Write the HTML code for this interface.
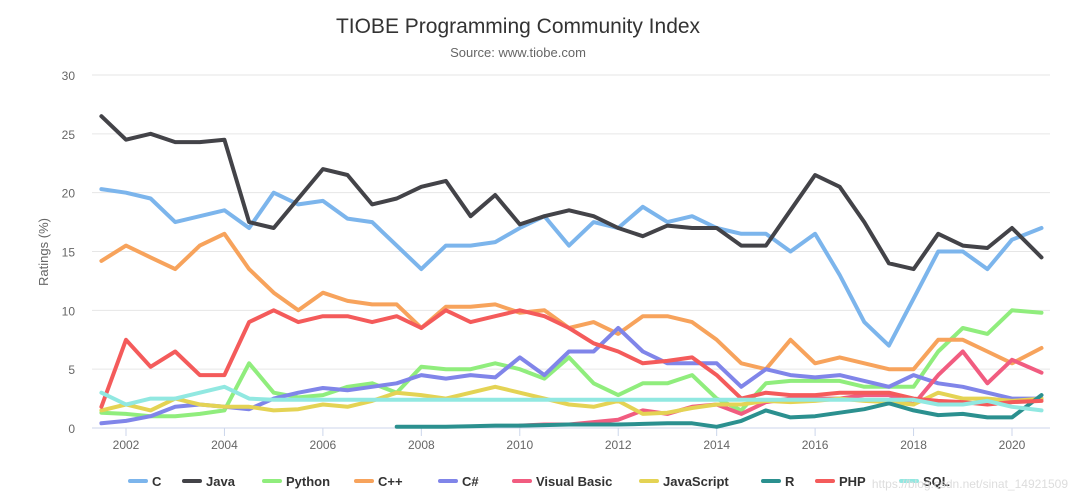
<!DOCTYPE html>
<html><head><meta charset="utf-8">
<style>
html,body{margin:0;padding:0;background:#fff;width:1080px;height:502px;overflow:hidden;font-family:"Liberation Sans",sans-serif}
</style></head>
<body>
<svg id="chart" width="1080" height="502" xmlns="http://www.w3.org/2000/svg" font-family="Liberation Sans, sans-serif">
<text x="518" y="33" text-anchor="middle" font-size="21" fill="#333">TIOBE Programming Community Index</text>
<text x="518" y="57" text-anchor="middle" font-size="13" fill="#666">Source: www.tiobe.com</text>
<text transform="translate(48,252) rotate(-90)" text-anchor="middle" font-size="13" fill="#666">Ratings (%)</text>
<g id="grid"></g><g id="xaxis"></g><g id="series"></g><g id="legend"></g>
<text x="1068" y="488" text-anchor="end" font-size="12" fill="#ddd">https://blog.csdn.net/sinat_14921509</text>
</svg>
<script>
const years=[2001.5,2002,2002.5,2003,2003.5,2004,2004.5,2005,2005.5,2006,2006.5,2007,2007.5,2008,2008.5,2009,2009.5,2010,2010.5,2011,2011.5,2012,2012.5,2013,2013.5,2014,2014.5,2015,2015.5,2016,2016.5,2017,2017.5,2018,2018.5,2019,2019.5,2020,2020.6];
const yTicks=[0,5,10,15,20,25,30];
const xTicks=[2002,2004,2006,2008,2010,2012,2014,2016,2018,2020];
const seriesNames=["C","Java","Python","C++","C#","Visual Basic","JavaScript","R","PHP","SQL"];
const cVals=[20.3,20,19.5,17.5,18,18.5,17,20,19,19.3,17.8,17.5,15.5,13.5,15.5,15.5,15.8,17,18,15.5,17.5,17,18.8,17.5,18,17,16.5,16.5,15,16.5,13,9,7,11,15,15,13.5,16,17];
const javaVals=[26.5,24.5,25,24.3,24.3,24.5,17.5,17,19.5,22,21.5,19,19.5,20.5,21,18,19.8,17.3,18,18.5,18,17,16.3,17.2,17,17,15.5,15.5,18.5,21.5,20.5,17.5,14,13.5,16.5,15.5,15.3,17,14.5];
const pythonVals=[1.3,1.2,1.0,1.0,1.2,1.5,5.5,3.0,2.6,2.8,3.5,3.8,3.0,5.2,5.0,5.0,5.5,5.0,4.2,6.0,3.8,2.8,3.8,3.8,4.5,2.5,1.5,3.8,4.0,4.0,4.0,3.5,3.5,3.5,6.5,8.5,8.0,10.0,9.8];
const cppVals=[14.2,15.5,14.5,13.5,15.5,16.5,13.5,11.5,10,11.5,10.8,10.5,10.5,8.5,10.3,10.3,10.5,9.8,10,8.5,9,8,9.5,9.5,9,7.5,5.5,5,7.5,5.5,6,5.5,5,5,7.5,7.5,6.5,5.5,6.8];
const csharpVals=[0.4,0.6,1.0,1.8,2.0,1.8,1.6,2.5,3.0,3.4,3.2,3.5,3.8,4.5,4.2,4.5,4.3,6.0,4.5,6.5,6.5,8.5,6.5,5.5,5.5,5.5,3.5,5.0,4.5,4.3,4.5,4.0,3.5,4.5,3.8,3.5,3.0,2.5,2.5];
const vbVals=[null,null,null,null,null,null,null,null,null,null,null,null,null,null,null,null,null,0.2,0.3,0.3,0.5,0.7,1.5,1.2,1.8,2.0,1.2,2.2,2.5,2.5,2.5,2.8,2.8,2.0,4.5,6.5,3.8,5.8,4.7];
const jsVals=[1.5,2.0,1.5,2.5,2.0,1.8,1.8,1.5,1.6,2.0,1.8,2.3,3.0,2.8,2.5,3.0,3.5,3.0,2.5,2.0,1.8,2.3,1.2,1.3,1.7,2.0,2.0,2.3,2.2,2.3,2.5,2.3,2.2,2.0,3.0,2.5,2.5,2.3,2.5];
const rVals=[null,null,null,null,null,null,null,null,null,null,null,null,0.1,0.1,0.1,0.15,0.2,0.2,0.25,0.3,0.3,0.3,0.35,0.4,0.4,0.1,0.6,1.5,0.9,1.0,1.3,1.6,2.1,1.5,1.1,1.2,0.9,0.9,2.8];
const phpVals=[1.8,7.5,5.2,6.5,4.5,4.5,9.0,10,9,9.5,9.5,9.0,9.5,8.5,10.0,9.0,9.5,10,9.5,8.5,7.2,6.5,5.5,5.7,6.0,4.5,2.5,3.0,2.8,2.8,3.0,3.0,3.0,2.5,2.3,2.2,2.0,2.2,2.3];
const sqlVals=[3.0,2.0,2.5,2.5,3.0,3.5,2.5,2.4,2.4,2.4,2.4,2.4,2.4,2.4,2.4,2.4,2.4,2.4,2.4,2.4,2.4,2.4,2.4,2.4,2.4,2.4,2.4,2.4,2.4,2.4,2.4,2.4,2.4,2.4,2.0,2.0,2.3,1.8,1.5];

const allVals=[cVals,javaVals,pythonVals,cppVals,csharpVals,vbVals,jsVals,rVals,phpVals,sqlVals];
const colors=["#7cb5ec","#434348","#90ed7d","#f7a35c","#8085e9","#f15c80","#e4d354","#2b908f","#f45b5b","#91e8e1"];
const NS="http://www.w3.org/2000/svg";
const X0=92,X1=1050,Y0=428,Y1=75;
function xs(t){return 126+(t-2002)*(1012-126)/18;}
function ys(v){return Y0-(v/30)*(Y0-Y1);}
function mk(tag,attrs,parent){const e=document.createElementNS(NS,tag);for(const k in attrs)e.setAttribute(k,attrs[k]);parent.appendChild(e);return e;}
const grid=document.getElementById('grid');
yTicks.forEach(v=>{
  if(v>0){const l=mk('line',{x1:X0,x2:X1,y1:ys(v),y2:ys(v),stroke:'#e6e6e6','stroke-width':1},grid);
  
  }
  const t=mk('text',{x:75,y:ys(v)+5,'text-anchor':'end','font-size':12,fill:'#666'},grid);
  t.textContent=v;
  
  
});
const xa=document.getElementById('xaxis');
const axl=mk('line',{x1:X0,x2:X1,y1:Y0,y2:Y0,stroke:'#ccd6eb','stroke-width':1},xa);


xTicks.forEach(y=>{
  const tk=mk('line',{x1:xs(y),x2:xs(y),y1:Y0,y2:Y0+8,stroke:'#ccd6eb'},xa);
  
  
  const t=mk('text',{x:xs(y),y:Y0+21,'text-anchor':'middle','font-size':12,fill:'#666'},xa);
  t.textContent=y;
  
  
});
const sg=document.getElementById('series');
allVals.forEach((vals,i)=>{
  let d='',pen=false;
  vals.forEach((v,j)=>{
    if(v===null){pen=false;return;}
    d+=(pen?'L':'M')+xs(years[j]).toFixed(1)+','+ys(v).toFixed(1);pen=true;
  });
  const p=mk('path',{d:d,fill:'none',stroke:colors[i],'stroke-width':4,'stroke-linejoin':'round','stroke-linecap':'round'},sg);
  
  
});
const lg=document.getElementById('legend');
const legendX=[130,184,264,356,440,514,641,763,817,901];
seriesNames.forEach((n,i)=>{
  const g=mk('g',{},lg);
  
  
  mk('line',{x1:legendX[i],x2:legendX[i]+16,y1:481,y2:481,stroke:colors[i],'stroke-width':4,'stroke-linecap':'round'},g);
  const t=mk('text',{x:legendX[i]+22,y:486,'font-size':13,'font-weight':'bold',fill:'#333'},g);
  t.textContent=n;
});
</script>
</body></html>
